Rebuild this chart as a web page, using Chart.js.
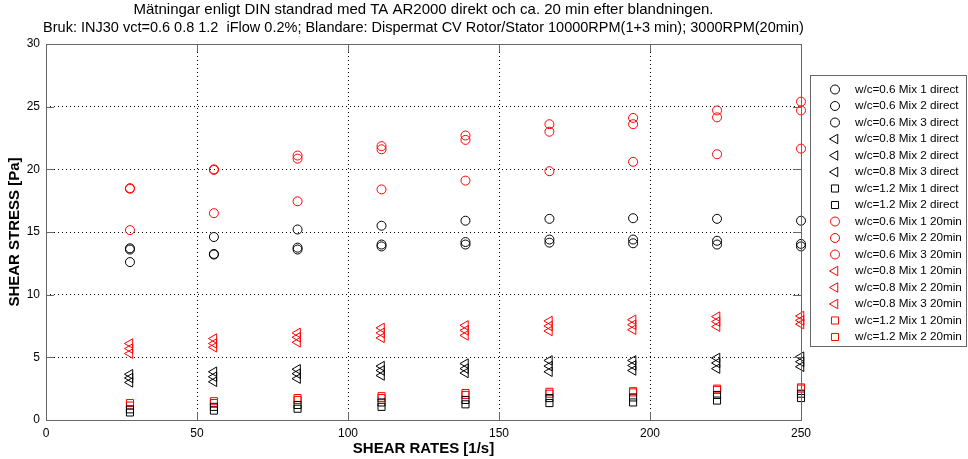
<!DOCTYPE html>
<html>
<head>
<meta charset="utf-8">
<script src="https://cdn.jsdelivr.net/npm/chart.js@4"></script>
<style>
  html, body { margin: 0; padding: 0; background: #fff; }
  #wrap { width: 968px; height: 459px; position: relative; }
</style>
</head>
<body>
<div id="wrap"><canvas id="stressChart"></canvas></div>
<script>
// Shear rates (x) shared by all series
const shearRates = [27.8, 55.6, 83.3, 111.1, 138.9, 166.7, 194.4, 222.2, 250];
const xTickValues = [0, 50, 100, 150, 200, 250];
const yTickValues = [0, 5, 10, 15, 20, 25, 30];

const titleLines = [
    'Mätningar enligt DIN standrad med TA AR2000 direkt och ca. 20 min efter blandningen.',
    'Bruk: INJ30 vct=0.6 0.8 1.2  iFlow 0.2%; Blandare: Dispermat CV Rotor/Stator 10000RPM(1+3 min); 3000RPM(20min)'
];

// Shear stress [Pa], measured directly
const wc06Mix1Direct = [13.7, 14.6, 15.2, 15.5, 15.9, 16.05, 16.1, 16.05, 15.9];
const wc06Mix2Direct = [13.6, 13.25, 13.75, 14.0, 14.2, 14.4, 14.4, 14.3, 14.05];
const wc06Mix3Direct = [12.6, 13.2, 13.6, 13.85, 14.0, 14.15, 14.1, 14.0, 13.85];
const wc08Mix1Direct = [3.65, 3.85, 4.05, 4.3, 4.5, 4.75, 4.75, 4.95, 5.05];
const wc08Mix2Direct = [3.35, 3.45, 3.7, 3.95, 4.1, 4.3, 4.35, 4.55, 4.65];
const wc08Mix3Direct = [3.0, 3.05, 3.3, 3.55, 3.75, 3.85, 3.95, 4.1, 4.25];
const wc12Mix1Direct = [0.85, 1.05, 1.2, 1.4, 1.6, 1.75, 1.8, 2.0, 2.1];
const wc12Mix2Direct = [0.6, 0.75, 0.9, 1.05, 1.25, 1.35, 1.4, 1.55, 1.75];

// Shear stress [Pa], measured after 20 min
const wc06Mix1Late = [18.5, 20.0, 21.1, 21.85, 22.7, 23.6, 24.1, 24.7, 25.4];
const wc06Mix2Late = [18.45, 19.95, 20.85, 21.6, 22.35, 23.0, 23.6, 24.15, 24.7];
const wc06Mix3Late = [15.15, 16.5, 17.45, 18.4, 19.1, 19.85, 20.6, 21.2, 21.65];
const wc08Mix1Late = [6.1, 6.5, 6.95, 7.35, 7.55, 7.9, 8.0, 8.25, 8.3];
const wc08Mix2Late = [5.7, 6.1, 6.6, 6.95, 7.15, 7.5, 7.6, 7.85, 7.95];
const wc08Mix3Late = [5.3, 5.8, 6.2, 6.55, 6.75, 7.1, 7.2, 7.45, 7.65];
const wc12Mix1Late = [1.35, 1.5, 1.75, 1.9, 2.15, 2.25, 2.3, 2.5, 2.6];
const wc12Mix2Late = [1.15, 1.35, 1.6, 1.75, 2.0, 2.1, 2.2, 2.4, 2.5];

const axisColor = '#666';
const fontFamily = '"Liberation Sans", Arial, sans-serif';

const markers = {
    circle: { pointStyle: 'circle', rotation: 0, radius: 4.5 },
    triangle: { pointStyle: 'triangle', rotation: -90, radius: 5.5 },
    square: { pointStyle: 'rect', rotation: 0, radius: 5 }
};

function series(label, values, marker, color) {
    const m = markers[marker];
    return {
        label: label,
        data: values.map((v, i) => ({ x: shearRates[i], y: v })),
        pointStyle: m.pointStyle,
        rotation: m.rotation,
        pointRadius: m.radius,
        pointHoverRadius: m.radius,
        borderColor: color,
        backgroundColor: 'rgba(0,0,0,0)',
        borderWidth: 1,
        showLine: false,
        clip: false
    };
}

const datasets = [
    series('w/c=0.6 Mix 1 direct', wc06Mix1Direct, 'circle', '#000'),
    series('w/c=0.6 Mix 2 direct', wc06Mix2Direct, 'circle', '#000'),
    series('w/c=0.6 Mix 3 direct', wc06Mix3Direct, 'circle', '#000'),
    series('w/c=0.8 Mix 1 direct', wc08Mix1Direct, 'triangle', '#000'),
    series('w/c=0.8 Mix 2 direct', wc08Mix2Direct, 'triangle', '#000'),
    series('w/c=0.8 Mix 3 direct', wc08Mix3Direct, 'triangle', '#000'),
    series('w/c=1.2 Mix 1 direct', wc12Mix1Direct, 'square', '#000'),
    series('w/c=1.2 Mix 2 direct', wc12Mix2Direct, 'square', '#000'),
    series('w/c=0.6 Mix 1 20min', wc06Mix1Late, 'circle', '#ff0000'),
    series('w/c=0.6 Mix 2 20min', wc06Mix2Late, 'circle', '#ff0000'),
    series('w/c=0.6 Mix 3 20min', wc06Mix3Late, 'circle', '#ff0000'),
    series('w/c=0.8 Mix 1 20min', wc08Mix1Late, 'triangle', '#ff0000'),
    series('w/c=0.8 Mix 2 20min', wc08Mix2Late, 'triangle', '#ff0000'),
    series('w/c=0.8 Mix 3 20min', wc08Mix3Late, 'triangle', '#ff0000'),
    series('w/c=1.2 Mix 1 20min', wc12Mix1Late, 'square', '#ff0000'),
    series('w/c=1.2 Mix 2 20min', wc12Mix2Late, 'square', '#ff0000')
];

// Box, inward ticks, two-line title and boxed legend (MATLAB look)
const matlabFrame = {
    id: 'matlabFrame',
    afterDraw(chart) {
        const { ctx, chartArea: a, scales } = chart;
        ctx.save();
        ctx.strokeStyle = axisColor;
        ctx.lineWidth = 1;
        ctx.beginPath();
        scales.x.ticks.forEach(t => {
            const px = Math.round(scales.x.getPixelForValue(t.value)) + 0.5;
            ctx.moveTo(px, a.bottom); ctx.lineTo(px, a.bottom - 8);
            ctx.moveTo(px, a.top); ctx.lineTo(px, a.top + 8);
        });
        scales.y.ticks.forEach(t => {
            const py = Math.round(scales.y.getPixelForValue(t.value)) + 0.5;
            ctx.moveTo(a.left, py); ctx.lineTo(a.left + 8, py);
            ctx.moveTo(a.right, py); ctx.lineTo(a.right - 8, py);
        });
        ctx.stroke();
        ctx.strokeRect(a.left + 0.5, a.top + 0.5, a.right - a.left, a.bottom - a.top);

        // title
        ctx.fillStyle = '#000';
        ctx.textAlign = 'center';
        ctx.textBaseline = 'middle';
        const cx = (a.left + a.right) / 2;
        ctx.font = '15px ' + fontFamily;
        ctx.fillText(titleLines[0], cx, 10);
        ctx.font = '14.5px ' + fontFamily;
        ctx.fillText(titleLines[1], cx, 28);

        // legend
        const lx = 810.5, ly = 75.5, lw = 156, lh = 271;
        ctx.strokeStyle = axisColor;
        ctx.strokeRect(lx, ly, lw, lh);
        ctx.font = '11.7px ' + fontFamily;
        ctx.textAlign = 'left';
        chart.data.datasets.forEach((ds, i) => {
            const y = 89.5 + i * 16.5;
            ctx.strokeStyle = ds.borderColor;
            ctx.fillStyle = 'rgba(0,0,0,0)';
            ctx.lineWidth = 1;
            Chart.helpers.drawPoint(ctx, {
                pointStyle: ds.pointStyle,
                rotation: ds.rotation,
                radius: ds.pointRadius,
                borderWidth: 1
            }, 835, y);
            ctx.fillStyle = '#000';
            ctx.fillText(ds.label, 855, y);
        });
        ctx.restore();
    }
};

const ctx = document.getElementById('stressChart').getContext('2d');
new Chart(ctx, {
    type: 'scatter',
    data: { datasets: datasets },
    options: {
        responsive: true,
        maintainAspectRatio: false,
        animation: false,
        events: [],
        layout: { padding: { top: 44, right: 167, left: 0, bottom: 0 } },
        plugins: {
            legend: { display: false },
            tooltip: { enabled: false }
        },
        scales: {
            x: {
                type: 'linear',
                min: 0,
                max: 250,
                afterFit: s => { s.height = 39; },
                afterBuildTicks: s => { s.ticks = xTickValues.map(v => ({ value: v })); },
                grid: { color: '#000', lineWidth: 1, drawTicks: false },
                border: { display: false, dash: [1, 3] },
                ticks: { padding: 6, color: '#000', font: { family: fontFamily, size: 12 } },
                title: {
                    display: true,
                    text: 'SHEAR RATES [1/s]',
                    color: '#000',
                    padding: { top: 1, bottom: 1 },
                    font: { family: fontFamily, size: 15, weight: 'bold' }
                }
            },
            y: {
                type: 'linear',
                min: 0,
                max: 30,
                afterFit: s => { s.width = 46; },
                afterBuildTicks: s => { s.ticks = yTickValues.map(v => ({ value: v })); },
                grid: { color: '#000', lineWidth: 1, drawTicks: false },
                border: { display: false, dash: [1, 3] },
                ticks: { padding: 6, color: '#000', font: { family: fontFamily, size: 12 } },
                title: {
                    display: true,
                    text: 'SHEAR STRESS [Pa]',
                    color: '#000',
                    padding: { top: 6, bottom: 0 },
                    font: { family: fontFamily, size: 15, weight: 'bold' }
                }
            }
        }
    },
    plugins: [matlabFrame]
});
</script>
</body>
</html>
